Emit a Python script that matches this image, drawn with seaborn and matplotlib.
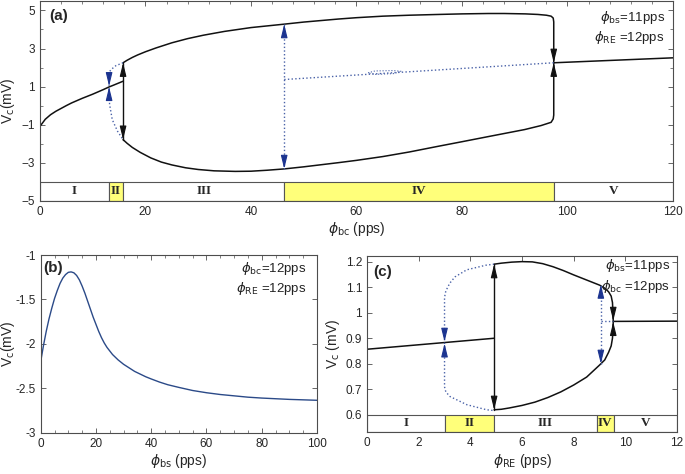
import numpy as np
import matplotlib
matplotlib.use("Agg")
import matplotlib.pyplot as plt
import seaborn as sns

# ---- panel (a): V_c vs phi_bc ----
a_stable_left_x = [0, 1, 2, 3, 4, 5, 6, 8, 10, 12, 13.1, 14, 15.75]
a_stable_left_y = [-1.09, -0.72, -0.48, -0.3, -0.15, 0.0, 0.14, 0.38, 0.6, 0.84, 0.98, 1.08, 1.28]
a_max_x = [15.75, 16.5, 17.5, 18.5, 20, 22, 25, 28, 31, 35, 40, 46.3, 50, 56.6, 60, 65, 70, 75.5, 80, 85, 88, 92, 94.4, 96, 96.9, 97.3, 97.4]
a_max_y = [2.25, 2.38, 2.53, 2.66, 2.83, 3.03, 3.3, 3.52, 3.7, 3.9, 4.1, 4.28, 4.39, 4.55, 4.62, 4.7, 4.75, 4.79, 4.82, 4.84, 4.84, 4.82, 4.79, 4.75, 4.7, 4.6, 4.4]
a_min_x = [15.75, 16.5, 17.5, 19, 21, 23, 25, 27.6, 30, 33, 37, 40, 43, 46.3, 50, 56.6, 60, 65, 70, 75.5, 80, 85, 91.9, 95, 96.9, 97.3, 97.4]
a_min_y = [-1.79, -1.98, -2.2, -2.46, -2.75, -2.97, -3.12, -3.27, -3.36, -3.43, -3.46, -3.45, -3.4, -3.33, -3.22, -3.0, -2.88, -2.68, -2.44, -2.14, -1.9, -1.63, -1.26, -1.05, -0.88, -0.7, -0.5]
a_join = (97.4, 2.25)
a_stable_right_x = [97.4, 120]
a_stable_right_y = [2.25, 2.51]
a_unst_lc_x = [15.75, 14.4, 13.5, 13.1, 13.1, 13.2, 13.7, 14.7, 15.75]
a_unst_lc_y = [2.25, 2.1, 1.9, 1.75, 0.45, 0.05, -0.74, -1.35, -1.79]
a_unst_eq_x = [46.3, 97.4]
a_unst_eq_y = [1.37, 2.25]
a_bubble_x = [62.2, 63.5, 67, 68.5, 67, 63.5, 62.2]
a_bubble_y = [1.72, 1.82, 1.84, 1.8, 1.68, 1.64, 1.72]
a_black_span = [15.75, -1.79, 2.25]
a_blue_span = [46.3, -3.33, 4.28]
a_blue_heads_x = [13.1, 13.1, 46.3, 46.3]
a_blue_heads_y = [1.02, 0.98, 4.28, -3.33]
a_blue_heads_dir = [-1, 1, 1, -1]
a_black_heads_x = [15.75, 15.75, 97.4, 97.4]
a_black_heads_y = [2.25, -1.79, 2.25, 2.25]
a_black_heads_dir = [1, -1, -1, 1]
a_regions = [0, 13.1, 15.75, 46.3, 97.4, 120]

# ---- panel (b): V_c vs phi_bs ----
b_x = [0, 1, 2, 3, 4, 5, 6, 7, 8, 9, 10, 11, 12, 13, 14, 15, 16, 17, 18, 19, 20,
       21, 22, 23, 24, 25, 26, 28, 30, 32, 34, 36, 38, 40, 43, 46, 50, 55, 60,
       65, 70, 75, 80, 90, 100]
b_y = [-2.2, -2.02, -1.86, -1.72, -1.6, -1.49, -1.4, -1.32, -1.26, -1.22, -1.195, -1.19, -1.2, -1.23, -1.28, -1.35, -1.43, -1.52, -1.61, -1.7, -1.78,
       -1.86, -1.93, -1.99, -2.04, -2.08, -2.12, -2.18, -2.23, -2.27, -2.31, -2.34, -2.37, -2.395, -2.43, -2.46, -2.49, -2.525, -2.55,
       -2.57, -2.585, -2.6, -2.61, -2.625, -2.635]

# ---- panel (c): V_c vs phi_RE ----
c_stable_left_x = [0, 4.92]
c_stable_left_y = [0.857, 0.90]
c_lc_x = [4.92, 5.2, 5.6, 6.0, 6.4, 6.8, 7.2, 7.6, 8.0, 8.5, 9.0, 9.2, 9.35, 9.45, 9.5, 9.52, 9.53,
          9.52, 9.5, 9.45, 9.35, 9.2, 9.0, 8.5, 8.0, 7.5, 7.0, 6.5, 6.0, 5.5, 5.2, 4.92]
c_lc_y = [1.19, 1.194, 1.198, 1.2, 1.199, 1.192, 1.18, 1.165, 1.148, 1.128, 1.108, 1.096, 1.082, 1.065, 1.04, 1.0, 0.966,
          0.93, 0.9, 0.87, 0.845, 0.815, 0.795, 0.748, 0.717, 0.69, 0.668, 0.65, 0.637, 0.627, 0.622, 0.62]
c_stable_right_x = [9.53, 12]
c_stable_right_y = [0.966, 0.967]
c_unst_lc_x = [4.92, 4.6, 3.86, 3.4, 3.2, 3.05, 3.0, 3.0, 3.05, 3.21, 3.86, 4.63, 4.92]
c_unst_lc_y = [1.19, 1.186, 1.168, 1.14, 1.115, 1.085, 1.06, 0.71, 0.69, 0.672, 0.64, 0.62, 0.617]
c_unst_eq_x = [9.05, 9.53]
c_unst_eq_y = [0.966, 0.966]
c_black_span = [4.92, 0.62, 1.19]
c_blue_span = [9.05, 0.80, 1.11]
c_blue_heads_x = [3.0, 3.0, 9.05, 9.05]
c_blue_heads_y = [0.886, 0.880, 1.11, 0.80]
c_blue_heads_dir = [-1, 1, 1, -1]
c_black_heads_x = [4.92, 4.92, 9.53, 9.53]
c_black_heads_y = [1.19, 0.62, 0.968, 0.964]
c_black_heads_dir = [1, -1, -1, 1]
c_regions = [0, 3.0, 4.92, 8.9, 9.55, 12]

region_labels = ["I", "II", "III", "IV", "V"]

sns.set_style("white")
plt.rcParams["font.family"] = ["Liberation Sans", "DejaVu Sans"]
plt.rcParams["mathtext.fontset"] = "dejavusans"

BLACK = "#111111"
BLUE_DOT = "#4a62a8"
BLUE_HEAD = "#1c3490"
YELLOW = "#ffff7a"
FRAME = "#4d4d4d"
TICK_FS = 8.5
LABEL_FS = 10


def line(ax, x, y, color=BLACK, ls="-", lw=1.1):
    sns.lineplot(x=x, y=y, ax=ax, sort=False, estimator=None, color=color,
                 linestyle=ls, linewidth=lw, legend=False)


def head(ax, x, y, d, color):
    ax.annotate("", xy=(x, y), xytext=(0, -9 * d), textcoords="offset points",
                arrowprops=dict(arrowstyle="-|>,head_length=0.9,head_width=0.22",
                                color=color, lw=0.8, shrinkA=0, shrinkB=0,
                                mutation_scale=9))


def bands(ax, edges, y0, y1):
    for i, lab in enumerate(region_labels):
        fc = YELLOW if i in (1, 3) else "white"
        ax.fill_between([edges[i], edges[i + 1]], y0, y1, facecolor=fc,
                        edgecolor="#555555", linewidth=0.8, zorder=1)
        ax.text((edges[i] + edges[i + 1]) / 2, (y0 + y1) / 2, lab,
                ha="center", va="center", family="Liberation Serif",
                fontweight="bold", fontsize=9.5, zorder=3)


def style(ax):
    ax.tick_params(which="both", direction="in", top=True, right=True,
                   bottom=True, left=True, colors=FRAME,
                   labelcolor="#262626", labelsize=TICK_FS)
    ax.tick_params(which="major", length=3.5, width=0.6)
    ax.tick_params(which="minor", length=2, width=0.5)
    for s in ax.spines.values():
        s.set_color(FRAME)
        s.set_linewidth(0.8)


def notes(ax, lines, x, ys):
    for t, yy in zip(lines, ys):
        ax.text(x, yy, t, transform=ax.transAxes, ha="right", va="center",
                fontsize=9.5, color="#222222")


fig = plt.figure(figsize=(6.85, 4.74), dpi=100)

# ---------- (a) ----------
ax = fig.add_axes([0.0584, 0.5766, 0.924, 0.4214])
bands(ax, a_regions, -5, -4)
line(ax, a_stable_left_x, a_stable_left_y)
line(ax, a_max_x + [a_join[0]] + a_min_x[::-1], a_max_y + [a_join[1]] + a_min_y[::-1])
line(ax, a_stable_right_x, a_stable_right_y)
line(ax, a_unst_lc_x, a_unst_lc_y, BLUE_DOT, ":", 1.0)
line(ax, a_unst_eq_x, a_unst_eq_y, BLUE_DOT, ":", 1.0)
line(ax, a_bubble_x, a_bubble_y, BLUE_DOT, ":", 0.8)
line(ax, [a_black_span[0]] * 2, a_black_span[1:], BLACK, "-", 1.0)
line(ax, [a_blue_span[0]] * 2, a_blue_span[1:], BLUE_DOT, ":", 1.0)
for x, y, d in zip(a_blue_heads_x, a_blue_heads_y, a_blue_heads_dir):
    head(ax, x, y, d, BLUE_HEAD)
for x, y, d in zip(a_black_heads_x, a_black_heads_y, a_black_heads_dir):
    head(ax, x, y, d, BLACK)
ax.set_xlim(0, 120)
ax.set_ylim(-5, 5.5)
ax.set_xticks(np.arange(0, 121, 20))
ax.set_xticks(np.arange(0, 121, 4), minor=True)
ax.set_yticks([-5, -3, -1, 1, 3, 5])
ax.set_yticks(np.arange(-5, 6, 1), minor=True)
style(ax)
ax.set_xlabel(r"$\phi_{\rm bc}$ (pps)", fontsize=LABEL_FS, labelpad=2)
ax.set_ylabel(r"V$_{\rm c}$(mV)", fontsize=LABEL_FS)
ax.yaxis.set_label_coords(-0.037, 0.5)
ax.text(0.015, 0.925, "(a)", transform=ax.transAxes, fontsize=11,
        fontweight="bold", va="center")
notes(ax, [r"$\phi_{\rm bs}$=11pps", r"$\phi_{\rm RE}$ =12pps"], 0.987, [0.915, 0.815])

# ---------- (b) ----------
ax = fig.add_axes([0.0594, 0.0871, 0.4034, 0.3749])
line(ax, b_x, b_y, "#2b4a88", "-", 1.0)
ax.set_xlim(0, 100)
ax.set_ylim(-3, -1)
ax.set_xticks(np.arange(0, 101, 20))
ax.set_xticks(np.arange(0, 101, 5), minor=True)
ax.set_yticks([-3, -2.5, -2, -1.5, -1])
ax.set_yticklabels(["-3", "-2.5", "-2", "-1.5", "-1"])
ax.set_xticklabels([str(v) for v in range(0, 101, 20)])
style(ax)
ax.set_xlabel(r"$\phi_{\rm bs}$ (pps)", fontsize=LABEL_FS, labelpad=2)
ax.set_ylabel(r"V$_{\rm c}$(mV)", fontsize=LABEL_FS)
ax.yaxis.set_label_coords(-0.084, 0.5)
ax.text(0.01, 0.927, "(b)", transform=ax.transAxes, fontsize=11,
        fontweight="bold", va="center")
notes(ax, [r"$\phi_{\rm bc}$=12pps", r"$\phi_{\rm RE}$ =12pps"], 0.962, [0.925, 0.81])

# ---------- (c) ----------
ax = fig.add_axes([0.5358, 0.0886, 0.4526, 0.3713])
bands(ax, c_regions, 0.533, 0.6)
line(ax, c_stable_left_x, c_stable_left_y)
line(ax, c_lc_x, c_lc_y)
line(ax, c_stable_right_x, c_stable_right_y)
line(ax, c_unst_lc_x, c_unst_lc_y, BLUE_DOT, ":", 1.0)
line(ax, c_unst_eq_x, c_unst_eq_y, BLUE_DOT, ":", 1.0)
line(ax, [c_black_span[0]] * 2, c_black_span[1:], BLACK, "-", 1.0)
line(ax, [c_blue_span[0]] * 2, c_blue_span[1:], BLUE_DOT, ":", 1.0)
for x, y, d in zip(c_blue_heads_x, c_blue_heads_y, c_blue_heads_dir):
    head(ax, x, y, d, BLUE_HEAD)
for x, y, d in zip(c_black_heads_x, c_black_heads_y, c_black_heads_dir):
    head(ax, x, y, d, BLACK)
ax.set_xlim(0, 12)
ax.set_ylim(0.533, 1.222)
ax.set_xticks(np.arange(0, 13, 2))
ax.set_yticks([0.6, 0.7, 0.8, 0.9, 1.0, 1.1, 1.2])
ax.set_yticklabels(["0.6", "0.7", "0.8", "0.9", "1", "1.1", "1.2"])
style(ax)
ax.set_xlabel(r"$\phi_{\rm RE}$ (pps)", fontsize=LABEL_FS, labelpad=2)
ax.set_ylabel(r"V$_{\rm c}$ (mV)", fontsize=LABEL_FS)
ax.yaxis.set_label_coords(-0.08, 0.5)
ax.text(0.02, 0.91, "(c)", transform=ax.transAxes, fontsize=11,
        fontweight="bold", va="center")
notes(ax, [r"$\phi_{\rm bs}$=11pps", r"$\phi_{\rm bc}$ =12pps"], 0.977, [0.945, 0.825])

fig.savefig("out.png", dpi=100)
